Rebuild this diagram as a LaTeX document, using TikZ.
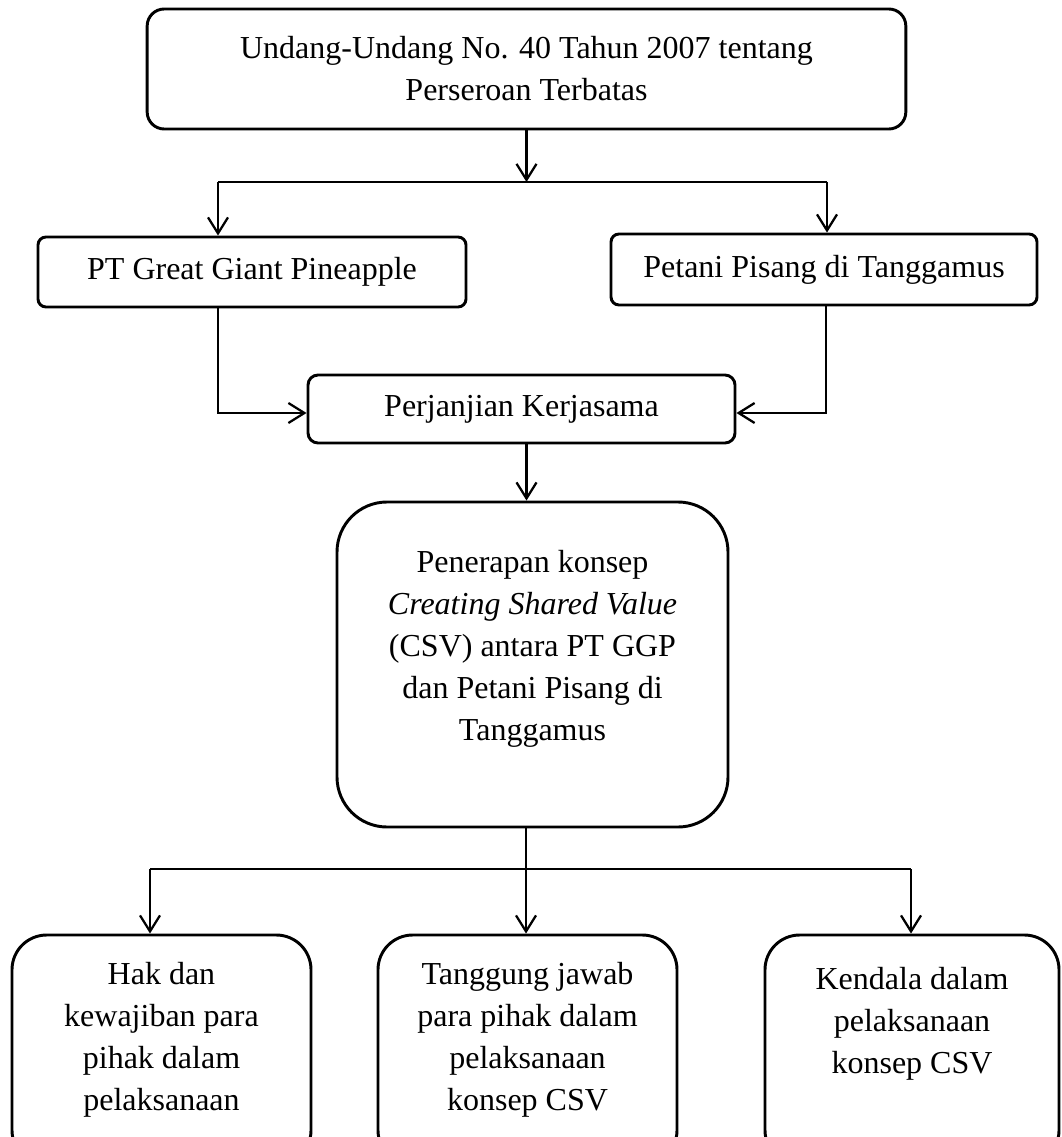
\documentclass[tikz,border=0pt]{standalone}
\usepackage{fontspec}
\setmainfont{Liberation Serif}
\usetikzlibrary{arrows.meta}
\begin{document}
\begin{tikzpicture}[x=0.75pt,y=-0.75pt,
	box/.style={draw,line width=2.2pt,align=center,inner sep=0pt},
	txt/.style={align=center,font=\fontsize{24}{31.5}\selectfont},
	conn/.style={line width=1.7pt},
	arr/.style={conn,-{Straight Barb[length=12pt,width=15pt,line width=1.7pt]}}]
	\useasboundingbox (0,0) rectangle (1061,1137);
	\clip (0,0) rectangle (1061,1137);
	\node[box,txt,rounded corners=12.75pt,minimum width=569pt,minimum height=90pt](uu) at (526.5,69) {Undang-Undang No. 40 Tahun 2007 tentang\\Perseroan Terbatas};
	\node[box,txt,rounded corners=6pt,minimum width=321pt,minimum height=52.5pt](ggp) at (252,272) {PT Great Giant Pineapple};
	\node[box,txt,rounded corners=6pt,minimum width=319.5pt,minimum height=53.25pt](petani) at (824,269.5) {Petani Pisang di Tanggamus};
	\node[box,txt,rounded corners=7.5pt,minimum width=320.25pt,minimum height=51pt](kerja) at (521.5,409) {Perjanjian Kerjasama};
	\node[box,rounded corners=37.5pt,minimum width=293.25pt,minimum height=243.75pt](csv) at (532.5,664.5) {};
	\node[txt](csvt) at (532.5,649) {Penerapan konsep\\\textit{Creating Shared Value}\\(CSV) antara PT GGP\\dan Petani Pisang di\\Tanggamus};
	\node[box,rounded corners=26pt,minimum width=224.25pt,minimum height=172.5pt](hak) at (161.5,1050) {};
	\node[box,rounded corners=26pt,minimum width=224.25pt,minimum height=172.5pt](tj) at (527.5,1050) {};
	\node[box,rounded corners=26pt,minimum width=220.5pt,minimum height=172.5pt](kend) at (912,1050) {};
	\node[txt](hakt) at (161.5,1040) {Hak dan\\kewajiban para\\pihak dalam\\pelaksanaan};
	\node[txt](tjt) at (527.5,1040) {Tanggung jawab\\para pihak dalam\\pelaksanaan\\konsep CSV};
	\node[txt](kendt) at (912,1023.5) {Kendala dalam\\pelaksanaan\\konsep CSV};
	\coordinate (split) at (526.5,182);
	\coordinate (sl) at (218,182);
	\coordinate (sr) at (827,182);
	\coordinate (jl) at (218,413);
	\coordinate (jr) at (826,413);
	\coordinate (bl) at (150,869);
	\coordinate (bm) at (526,869);
	\coordinate (br) at (911,869);
	\draw[arr] (uu.south) -- (split);
	\draw[conn] (sl) -- (sr);
	\draw[arr] (sl) -- (sl |- ggp.north);
	\draw[arr] (sr) -- (sr |- petani.north);
	\draw[arr] (jl |- ggp.south) -- (jl) -- (jl -| kerja.west);
	\draw[arr] (jr |- petani.south) -- (jr) -- (jr -| kerja.east);
	\draw[arr] (split |- kerja.south) -- (split |- csv.north);
	\draw[arr] (bm |- csv.south) -- (bm |- tj.north);
	\draw[conn] (bl) -- (br);
	\draw[arr] (bl) -- (bl |- hak.north);
	\draw[arr] (br) -- (br |- kend.north);
\end{tikzpicture}
\end{document}
